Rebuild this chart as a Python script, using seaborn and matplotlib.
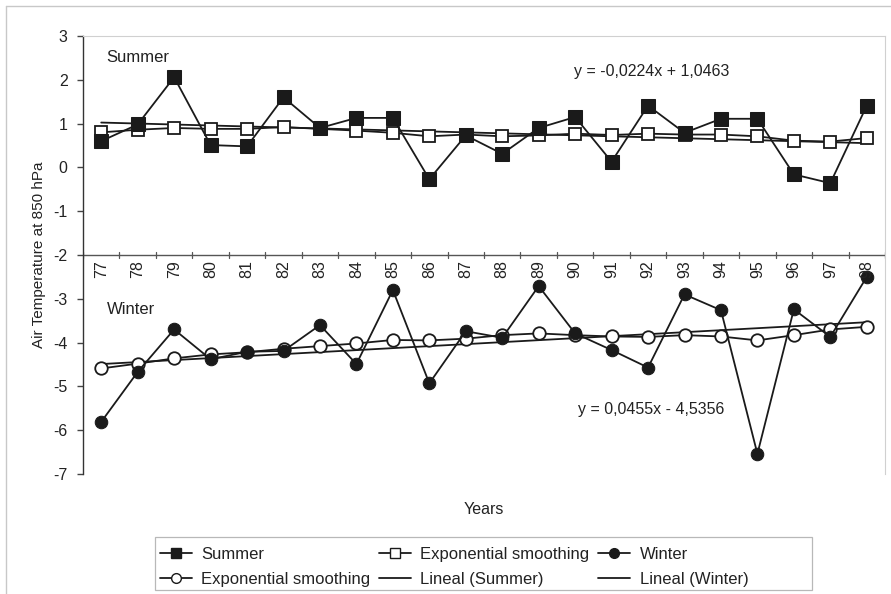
import numpy as np
import pandas as pd
import matplotlib
matplotlib.use("Agg")
import matplotlib.pyplot as plt
import seaborn as sns
from matplotlib.lines import Line2D
from matplotlib.patches import Rectangle

years = ["77", "78", "79", "80", "81", "82", "83", "84", "85", "86", "87",
         "88", "89", "90", "91", "92", "93", "94", "95", "96", "97", "98"]
summer = [0.60, 0.98, 2.06, 0.51, 0.48, 1.60, 0.90, 1.13, 1.13, -0.27, 0.73,
          0.31, 0.90, 1.15, 0.13, 1.41, 0.79, 1.11, 1.11, -0.16, -0.36, 1.41]
summer_smooth = [0.80, 0.86, 0.90, 0.88, 0.88, 0.92, 0.88, 0.84, 0.79, 0.71, 0.75,
                 0.71, 0.73, 0.77, 0.74, 0.77, 0.75, 0.75, 0.71, 0.61, 0.59, 0.67]
winter = [-5.81, -4.67, -3.70, -4.38, -4.21, -4.19, -3.60, -4.49, -2.80, -4.93, -3.74,
          -3.89, -2.71, -3.79, -4.17, -4.57, -2.90, -3.26, -6.54, -3.24, -3.87, -2.50]
winter_smooth = [-4.59, -4.48, -4.36, -4.27, -4.22, -4.14, -4.08, -4.02, -3.94, -3.95, -3.91,
                 -3.83, -3.79, -3.83, -3.86, -3.87, -3.83, -3.86, -3.95, -3.83, -3.70, -3.64]
summer_fit = (-0.0224, 1.0463)
winter_fit = (0.0455, -4.5356)
summer_eq = "y = -0,0224x + 1,0463"
winter_eq = "y = 0,0455x - 4,5356"

sns.set_theme(style="white")
plt.rcParams["font.family"] = ["Liberation Sans", "DejaVu Sans"]

idx = np.arange(len(years))
df = pd.DataFrame({"i": idx, "summer": summer, "summer_smooth": summer_smooth,
                   "winter": winter, "winter_smooth": winter_smooth})
df["summer_lin"] = summer_fit[0] * (idx + 1) + summer_fit[1]
df["winter_lin"] = winter_fit[0] * (idx + 1) + winter_fit[1]

fig = plt.figure(figsize=(8.91, 5.94), dpi=100)
ax = fig.add_axes([83 / 891, 1 - 474 / 594, (885 - 83) / 891, (474 - 36) / 594])

c = "#1a1a1a"
tc = "#222222"
lw = 1.3
sns.lineplot(data=df, x="i", y="summer_lin", ax=ax, color=c, lw=lw)
sns.lineplot(data=df, x="i", y="winter_lin", ax=ax, color=c, lw=lw)
sns.lineplot(data=df, x="i", y="summer_smooth", ax=ax, color=c, lw=lw, marker="s",
             markersize=9, markerfacecolor="white", markeredgecolor=c, markeredgewidth=1.3)
sns.lineplot(data=df, x="i", y="summer", ax=ax, color=c, lw=lw, marker="s",
             markersize=9.5, markerfacecolor=c, markeredgecolor=c)
sns.lineplot(data=df, x="i", y="winter_smooth", ax=ax, color=c, lw=lw, marker="o",
             markersize=9, markerfacecolor="white", markeredgecolor=c, markeredgewidth=1.3)
sns.lineplot(data=df, x="i", y="winter", ax=ax, color=c, lw=lw, marker="o",
             markersize=9, markerfacecolor=c, markeredgecolor=c)

ax.set_xlim(-0.5, len(years) - 0.5)
ax.set_ylim(-7, 3)
ax.set_yticks(np.arange(-7, 4, 1))
ax.set_yticklabels([str(v) for v in range(-7, 4)], fontsize=11.5, color=tc)
ax.tick_params(axis="y", direction="out", length=4, width=1, color="#444444", left=True, pad=7)
ax.set_xticks([])
ax.set_xlabel("")
ax.set_ylabel("Air Temperature at 850 hPa", fontsize=11, color=tc, labelpad=5)

for s in ["top", "right"]:
    ax.spines[s].set_color("#d0d0d0")
    ax.spines[s].set_linewidth(0.8)
ax.spines["bottom"].set_visible(False)
ax.spines["left"].set_color("#333333")
ax.spines["left"].set_linewidth(1.0)

# category axis crossing at y = -2
ax.axhline(-2, color="#555555", lw=1.0, zorder=1)
for b in np.arange(-0.5, len(years) + 0.5, 1):
    ax.plot([b, b], [-2.06, -1.94], color="#555555", lw=0.9, zorder=1)
for i, lab in enumerate(years):
    ax.text(i, -2.12, lab, rotation=90, ha="center", va="top", fontsize=11.5, color=tc)

ax.text(0.15, 2.52, "Summer", fontsize=12, color=tc, va="center")
ax.text(0.15, -3.25, "Winter", fontsize=12, color=tc, va="center")
ax.text(15.1, 2.2, summer_eq, fontsize=11.5, color=tc, ha="center", va="center")
ax.text(15.08, -5.52, winter_eq, fontsize=11.5, color=tc, ha="center", va="center")

fig.text(484 / 891, 1 - 509 / 594, "Years", fontsize=11.5, color=tc, ha="center", va="center")

handles = [
    Line2D([], [], color=c, lw=lw, marker="s", markersize=7.5, markerfacecolor=c, markeredgecolor=c),
    Line2D([], [], color=c, lw=lw, marker="o", markersize=7, markerfacecolor="white", markeredgecolor=c),
    Line2D([], [], color=c, lw=lw, marker="s", markersize=7.5, markerfacecolor="white", markeredgecolor=c),
    Line2D([], [], color=c, lw=lw),
    Line2D([], [], color=c, lw=lw, marker="o", markersize=7, markerfacecolor=c, markeredgecolor=c),
    Line2D([], [], color=c, lw=lw),
]
labels = ["Summer", "Exponential smoothing", "Exponential smoothing", "Lineal (Summer)",
          "Winter", "Lineal (Winter)"]
leg = fig.legend(handles, labels, ncol=3, loc="center", bbox_to_anchor=(454 / 891, 1 - 567 / 594),
                 fontsize=12, frameon=False, handlelength=1.95,
                 handletextpad=0.55, columnspacing=0.5, labelspacing=0.58, borderpad=0.2)
for t in leg.get_texts():
    t.set_color(tc)

# legend box (wider than its content, as in the original)
fig.add_artist(Rectangle((155 / 891, 1 - 590 / 594), (812 - 155) / 891, (590 - 537) / 594,
                         transform=fig.transFigure, fill=False, edgecolor="#b8b8b8", lw=0.9))

# outer chart border (left and top)
fig.add_artist(Line2D([6 / 891, 6 / 891], [0, 1 - 6 / 594], transform=fig.transFigure,
                      color="#c8c8c8", lw=1.0))
fig.add_artist(Line2D([6 / 891, 1], [1 - 6 / 594, 1 - 6 / 594], transform=fig.transFigure,
                      color="#c8c8c8", lw=1.0))

fig.savefig("out.png", dpi=100)
